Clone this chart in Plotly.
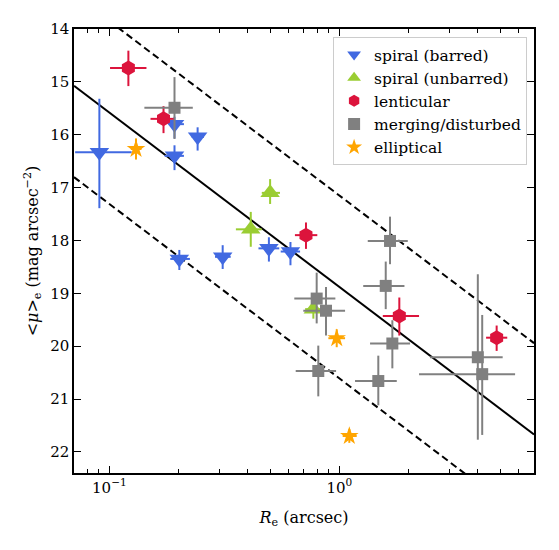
import plotly.graph_objects as go
import numpy as np

# ---- data (R_e in arcsec, <mu>_e in mag arcsec^-2); bounds are error-bar ends ----
barred_x = [0.0905, 0.192, 0.192, 0.242, 0.2015, 0.311, 0.494, 0.613]
barred_y = [16.33, 15.80, 16.40, 16.04, 18.35, 18.31, 18.15, 18.21]
barred_xlo = [0.071, 0.181, 0.174, 0.228, 0.184, 0.288, 0.445, 0.556]
barred_xhi = [0.125, 0.211, 0.211, 0.258, 0.224, 0.337, 0.548, 0.675]
barred_ylo = [15.32, 15.66, 16.20, 15.86, 18.18, 18.09, 17.94, 18.03]
barred_yhi = [17.39, 16.07, 16.67, 16.30, 18.56, 18.54, 18.40, 18.47]

unbarred_x = [0.50, 0.412, 0.771]
unbarred_y = [17.10, 17.79, 19.30]
unbarred_xlo = [0.46, 0.355, 0.71]
unbarred_xhi = [0.552, 0.46, 0.824]
unbarred_ylo = [16.84, 17.46, 19.12]
unbarred_yhi = [17.31, 18.12, 19.48]

lent_x = [0.121, 0.172, 0.716, 1.823, 4.83]
lent_y = [14.74, 15.70, 17.90, 19.43, 19.84]
lent_xlo = [0.1007, 0.151, 0.641, 1.545, 4.345]
lent_xhi = [0.145, 0.193, 0.802, 2.221, 5.37]
lent_ylo = [14.41, 15.46, 17.66, 19.08, 19.61]
lent_yhi = [15.08, 15.97, 18.16, 19.80, 20.09]

merg_x = [0.192, 1.661, 1.591, 0.797, 0.875, 1.70, 4.0, 4.18, 0.81, 1.477]
merg_y = [15.49, 18.01, 18.86, 19.10, 19.33, 19.95, 20.21, 20.53, 20.47, 20.66]
merg_xlo = [0.142, 1.329, 1.27, 0.637, 0.697, 1.36, 2.477, 2.221, 0.646, 1.17]
merg_xhi = [0.2306, 1.984, 1.919, 0.961, 1.059, 2.03, 5.13, 5.81, 0.968, 1.777]
merg_ylo = [14.91, 17.55, 18.40, 18.61, 18.88, 19.51, 18.64, 19.41, 19.99, 20.18]
merg_yhi = [16.08, 18.45, 19.30, 19.57, 19.80, 20.42, 21.77, 21.68, 20.95, 21.12]

ell_x = [0.1306, 0.974, 1.105]
ell_y = [16.27, 19.85, 21.70]
ell_xlo = [0.124, 0.896, 1.034]
ell_xhi = [0.138, 1.059, 1.19]
ell_ylo = [16.07, 19.68, 21.57]
ell_yhi = [16.47, 20.02, 21.83]

# fit relation: mu = FIT_A + FIT_B*log10(R), scatter band +/- FIT_OFF
FIT_A = 18.88
FIT_B = 3.30
FIT_OFF = 1.73
X_RANGE = [0.0702, 7.02]
Y_RANGE = [22.4, 14.0]

FONT = "DejaVu Serif"

fig = go.Figure()

line_x = np.array(X_RANGE)
line_y = FIT_A + FIT_B * np.log10(line_x)
fig.add_trace(go.Scatter(x=line_x, y=line_y, mode="lines",
                         line=dict(color="black", width=2), showlegend=False, hoverinfo="skip"))
for s in (-1, 1):
    fig.add_trace(go.Scatter(x=line_x, y=line_y + s * FIT_OFF, mode="lines",
                             line=dict(color="black", width=2, dash="7px,4px"),
                             showlegend=False, hoverinfo="skip"))

groups = [
    ("spiral (barred)", barred_x, barred_y, barred_xlo, barred_xhi, barred_ylo, barred_yhi,
     "#4169E1", "triangle-down", 17),
    ("spiral (unbarred)", unbarred_x, unbarred_y, unbarred_xlo, unbarred_xhi, unbarred_ylo, unbarred_yhi,
     "#9ACD32", "triangle-up", 17),
    ("lenticular", lent_x, lent_y, lent_xlo, lent_xhi, lent_ylo, lent_yhi,
     "#DC143C", "hexagon", 15),
    ("merging/disturbed", merg_x, merg_y, merg_xlo, merg_xhi, merg_ylo, merg_yhi,
     "#808080", "square", 12),
    ("elliptical", ell_x, ell_y, ell_xlo, ell_xhi, ell_ylo, ell_yhi,
     "#FFA500", "star", 14),
]

for name, x, y, xlo, xhi, ylo, yhi, col, sym, size in groups:
    x = np.array(x); y = np.array(y)
    fig.add_trace(go.Scatter(
        x=x, y=y, mode="markers", name=name,
        marker=dict(color=col, symbol=sym, size=size, line=dict(width=0)),
        error_x=dict(type="data", symmetric=False, array=np.array(xhi) - x,
                     arrayminus=x - np.array(xlo), color=col, thickness=2, width=0),
        error_y=dict(type="data", symmetric=False, array=np.array(yhi) - y,
                     arrayminus=y - np.array(ylo), color=col, thickness=2, width=0),
    ))

minor_vals = [0.07, 0.08, 0.09, 0.2, 0.3, 0.4, 0.5, 0.6, 0.7, 0.8, 0.9, 2, 3, 4, 5, 6, 7]

fig.update_xaxes(
    type="log", range=[np.log10(X_RANGE[0]), np.log10(X_RANGE[1])],
    tickmode="array", tickvals=[0.1, 1], ticktext=["10<sup>−1</sup>", "10<sup>0</sup>"],
    ticks="inside", ticklen=7, tickwidth=1.3, tickcolor="black",
    minor=dict(tickmode="array", tickvals=minor_vals, ticks="inside", ticklen=4,
               tickwidth=1, tickcolor="black", showgrid=False),
    showline=True, linecolor="black", linewidth=1.5, mirror="allticks",
    showgrid=False, zeroline=False,
    title=dict(text="<i>R</i><sub>e</sub> (arcsec)", font=dict(size=16, family=FONT), standoff=16),
    tickfont=dict(size=15, family=FONT, color="black"),
)
fig.update_yaxes(
    range=Y_RANGE, tickmode="linear", tick0=14, dtick=1,
    ticks="inside", ticklen=7, tickwidth=1.3, tickcolor="black",
    showline=True, linecolor="black", linewidth=1.5, mirror="allticks",
    showgrid=False, zeroline=False,
    title=dict(text="&lt;<i>μ</i>&gt;<sub>e</sub> (mag arcsec<sup>−2</sup>)",
               font=dict(size=16, family=FONT), standoff=8),
    tickfont=dict(size=15, family=FONT, color="black"),
)

fig.update_layout(
    width=559, height=550,
    margin=dict(l=74, r=25, t=29, b=77),
    plot_bgcolor="white", paper_bgcolor="white",
    font=dict(family=FONT, color="black"),
    legend=dict(x=0.985, y=0.982, xanchor="right", yanchor="top",
                bgcolor="rgba(255,255,255,0.85)", bordercolor="#cccccc", borderwidth=1,
                font=dict(size=15.5, family=FONT), tracegroupgap=0, itemsizing="constant"),
)

fig.write_html("out.html")
